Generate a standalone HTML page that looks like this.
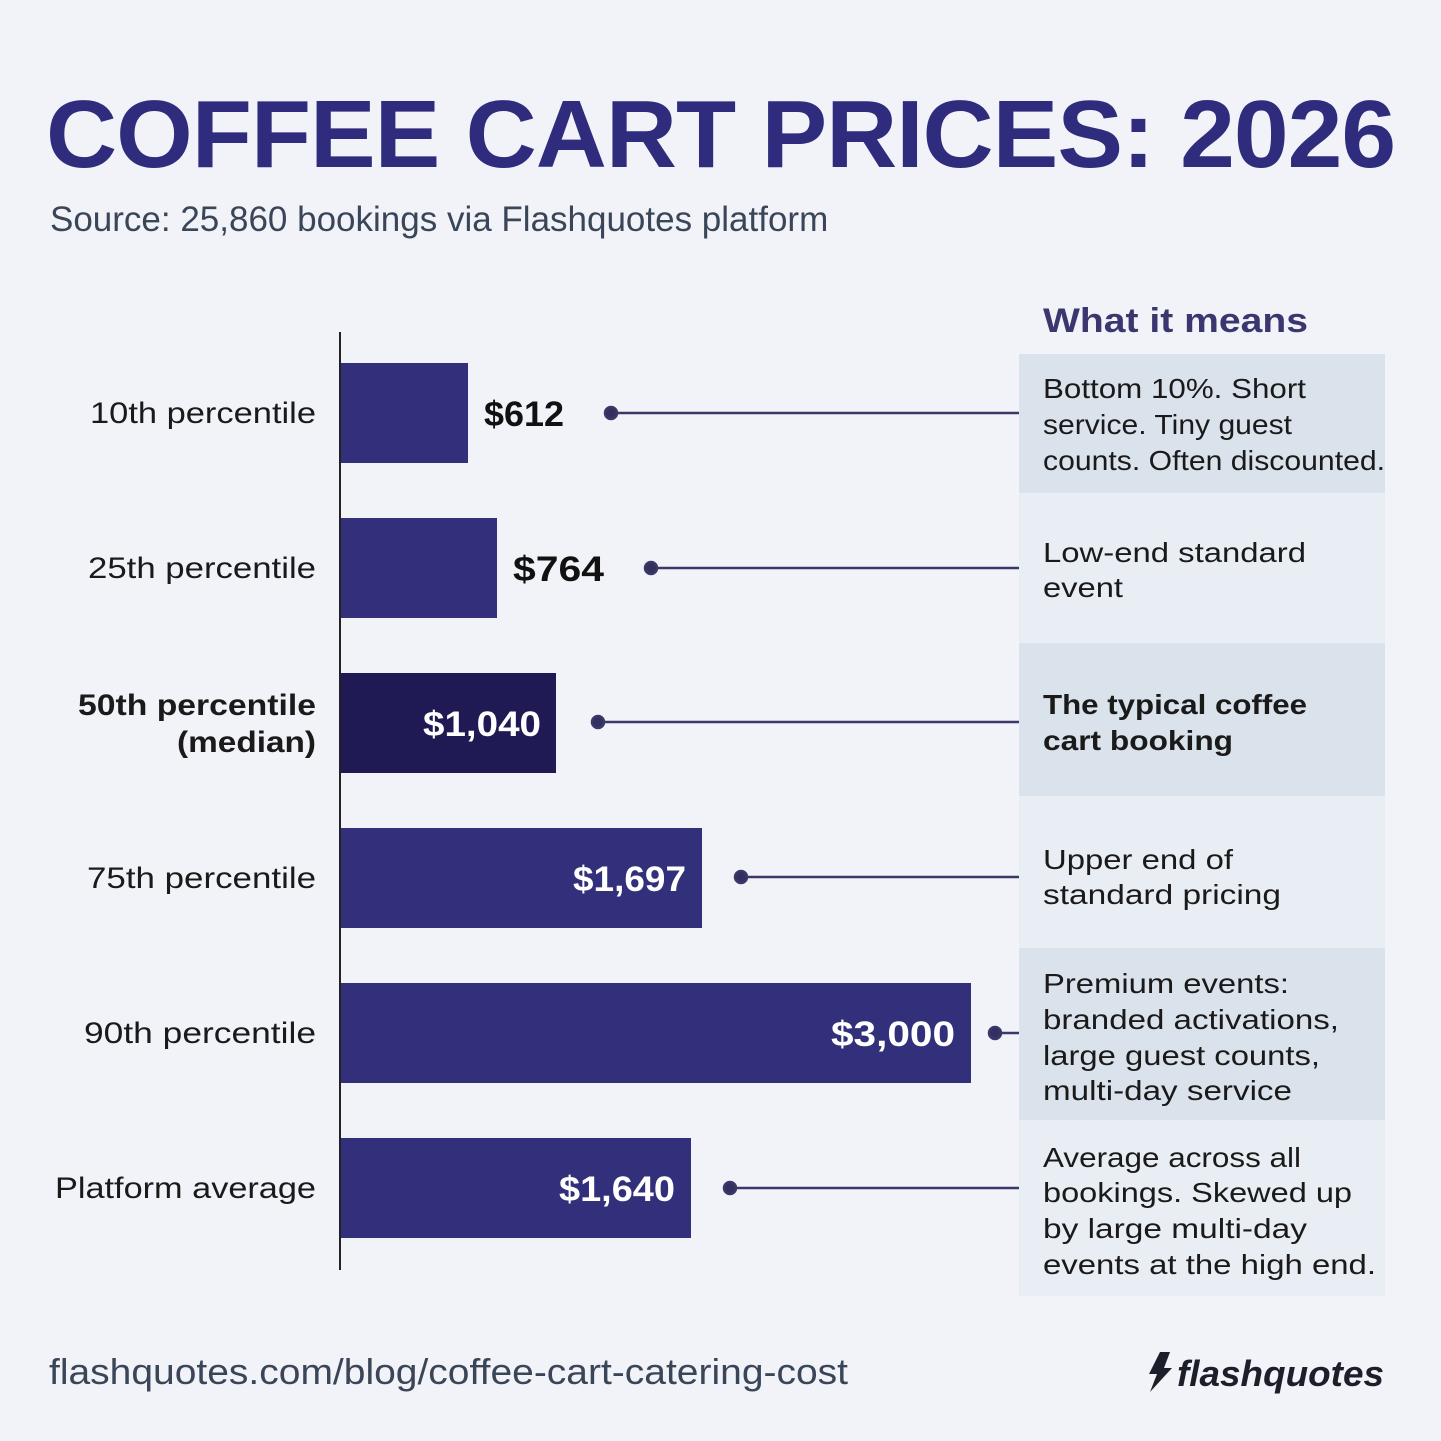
<!DOCTYPE html>
<html><head><meta charset="utf-8"><style>
html,body{margin:0;padding:0}
body{width:1441px;height:1441px;background:#f1f3f9;position:relative;overflow:hidden;font-family:"Liberation Sans",sans-serif}
.a{position:absolute}
</style></head><body>
<div class="a" style="left:46px;top:80px;font-size:96px;font-weight:bold;color:#2f2c7d;letter-spacing:-1px;white-space:nowrap;transform:scaleX(1.026);transform-origin:left">COFFEE CART PRICES: 2026</div>
<div class="a" style="left:50px;top:200px;font-size:35px;color:#3a4658">Source: 25,860 bookings via Flashquotes platform</div>
<svg class="a" style="left:0;top:0" width="1441" height="1441">
<rect x="1019" y="354" width="366" height="139" fill="#dae2eb"/>
<rect x="1019" y="493" width="366" height="150" fill="#e9edf4"/>
<rect x="1019" y="643" width="366" height="153" fill="#dae2eb"/>
<rect x="1019" y="796" width="366" height="152" fill="#e9edf4"/>
<rect x="1019" y="948" width="366" height="172" fill="#dae2eb"/>
<rect x="1019" y="1120" width="366" height="176" fill="#e9edf4"/>
<line x1="340" y1="332" x2="340" y2="1270" stroke="#222" stroke-width="2"/>
<g fill="#33307b">
<rect x="341" y="363" width="127" height="100"/>
<rect x="341" y="518" width="156" height="100"/>
<rect x="341" y="673" width="215" height="100" fill="#1f1a54"/>
<rect x="341" y="828" width="361" height="100"/>
<rect x="341" y="983" width="630" height="100"/>
<rect x="341" y="1138" width="350" height="100"/>
</g>
<g stroke="#3a3868" stroke-width="2.5" fill="#33305f">
<line x1="611" y1="413" x2="1019" y2="413"/><circle cx="611" cy="413" r="6"/>
<line x1="651" y1="568" x2="1019" y2="568"/><circle cx="651" cy="568" r="6"/>
<line x1="598" y1="722" x2="1019" y2="722"/><circle cx="598" cy="722" r="6"/>
<line x1="741" y1="877" x2="1019" y2="877"/><circle cx="741" cy="877" r="6"/>
<line x1="995" y1="1033" x2="1019" y2="1033"/><circle cx="995" cy="1033" r="6"/>
<line x1="730" y1="1188" x2="1019" y2="1188"/><circle cx="730" cy="1188" r="6"/>
</g>
<g font-family="Liberation Sans, sans-serif" font-size="30" fill="#1a1a1a" text-anchor="end">
<text x="316" y="423" textLength="226" lengthAdjust="spacingAndGlyphs">10th percentile</text>
<text x="316" y="578" textLength="228" lengthAdjust="spacingAndGlyphs">25th percentile</text>
<text x="316" y="715" font-weight="bold" textLength="238" lengthAdjust="spacingAndGlyphs">50th percentile</text>
<text x="316" y="752" font-weight="bold" textLength="139" lengthAdjust="spacingAndGlyphs">(median)</text>
<text x="316" y="888" textLength="229" lengthAdjust="spacingAndGlyphs">75th percentile</text>
<text x="316" y="1043" textLength="232" lengthAdjust="spacingAndGlyphs">90th percentile</text>
<text x="316" y="1198" textLength="261" lengthAdjust="spacingAndGlyphs">Platform average</text>
</g>
<g font-family="Liberation Sans, sans-serif" font-size="35" font-weight="bold">
<text x="484" y="426" fill="#111" textLength="80" lengthAdjust="spacingAndGlyphs">$612</text>
<text x="513" y="581" fill="#111" textLength="91" lengthAdjust="spacingAndGlyphs">$764</text>
<g fill="#fff" text-anchor="end">
<text x="541" y="736" textLength="118" lengthAdjust="spacingAndGlyphs">$1,040</text>
<text x="686" y="891" textLength="113" lengthAdjust="spacingAndGlyphs">$1,697</text>
<text x="955" y="1046" textLength="124" lengthAdjust="spacingAndGlyphs">$3,000</text>
<text x="675" y="1201" textLength="116" lengthAdjust="spacingAndGlyphs">$1,640</text>
</g>
</g>
<text x="1043" y="332" font-family="Liberation Sans, sans-serif" font-size="34" font-weight="bold" fill="#3a376f" textLength="265" lengthAdjust="spacingAndGlyphs">What it means</text>
<g font-family="Liberation Sans, sans-serif" font-size="28" fill="#1a1a1a">
<text x="1043" y="398" textLength="263" lengthAdjust="spacingAndGlyphs">Bottom 10%. Short</text>
<text x="1043" y="434" textLength="249" lengthAdjust="spacingAndGlyphs">service. Tiny guest</text>
<text x="1043" y="470" textLength="342" lengthAdjust="spacingAndGlyphs">counts. Often discounted.</text>
<text x="1043" y="562" textLength="263" lengthAdjust="spacingAndGlyphs">Low-end standard</text>
<text x="1043" y="597" textLength="80" lengthAdjust="spacingAndGlyphs">event</text>
<text x="1043" y="714" font-weight="bold" textLength="264" lengthAdjust="spacingAndGlyphs">The typical coffee</text>
<text x="1043" y="750" font-weight="bold" textLength="190" lengthAdjust="spacingAndGlyphs">cart booking</text>
<text x="1043" y="869" textLength="190" lengthAdjust="spacingAndGlyphs">Upper end of</text>
<text x="1043" y="904" textLength="238" lengthAdjust="spacingAndGlyphs">standard pricing</text>
<text x="1043" y="993" textLength="246" lengthAdjust="spacingAndGlyphs">Premium events:</text>
<text x="1043" y="1029" textLength="296" lengthAdjust="spacingAndGlyphs">branded activations,</text>
<text x="1043" y="1065" textLength="277" lengthAdjust="spacingAndGlyphs">large guest counts,</text>
<text x="1043" y="1100" textLength="249" lengthAdjust="spacingAndGlyphs">multi-day service</text>
<text x="1043" y="1167" textLength="258" lengthAdjust="spacingAndGlyphs">Average across all</text>
<text x="1043" y="1202" textLength="309" lengthAdjust="spacingAndGlyphs">bookings. Skewed up</text>
<text x="1043" y="1238" textLength="264" lengthAdjust="spacingAndGlyphs">by large multi-day</text>
<text x="1043" y="1274" textLength="333" lengthAdjust="spacingAndGlyphs">events at the high end.</text>
</g>
<path d="M1160,1352 L1170,1352 L1164,1368 L1172,1368 L1150,1392 L1157,1374 L1149,1374 Z" fill="#1c1f2a"/>
<text x="1177" y="1386" font-family="Liberation Sans, sans-serif" font-size="36" font-style="italic" font-weight="bold" fill="#1c1f2a" textLength="207" lengthAdjust="spacingAndGlyphs">flashquotes</text>
<text x="49" y="1384" font-family="Liberation Sans, sans-serif" font-size="36" fill="#3a4658" textLength="799" lengthAdjust="spacingAndGlyphs">flashquotes.com/blog/coffee-cart-catering-cost</text>
</svg>
</body></html>
